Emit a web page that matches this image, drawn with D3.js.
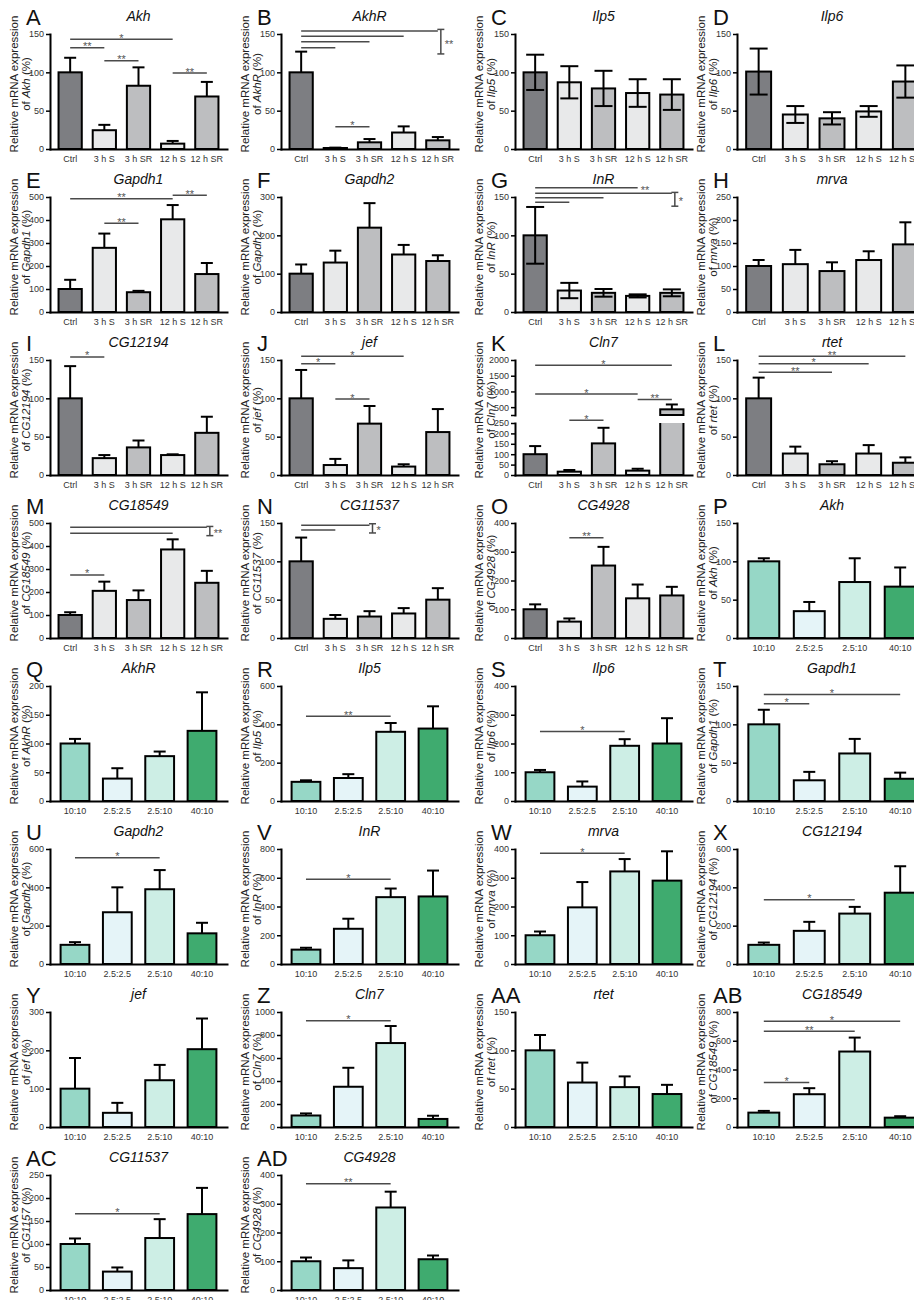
<!DOCTYPE html>
<html>
<head>
<meta charset="utf-8">
<script src="https://cdn.jsdelivr.net/npm/d3@7"></script>
<style>
  body { margin: 0; background: #fff; }
  svg { display: block; }
</style>
</head>
<body>
<svg id="fig" width="914" height="1300"></svg>
<script>
// ---- groups and colours ----
const timeGroups = ["Ctrl", "3 h S", "3 h SR", "12 h S", "12 h SR"];
const dietGroups = ["10:10", "2.5:2.5", "2.5:10", "40:10"];
const timeColors = ["#7d7e82", "#e8e9ea", "#bdbec0", "#e8e9ea", "#bdbec0"];
const dietColors = ["#96d7c6", "#e5f4f8", "#cdeee5", "#3fab6f"];

// ---- y tick sets ----
const t150 = [0, 50, 100, 150];
const t200 = [0, 50, 100, 150, 200];
const t250 = [0, 50, 100, 150, 200, 250];
const t300 = [0, 100, 200, 300];
const t400 = [0, 100, 200, 300, 400];
const t500 = [0, 100, 200, 300, 400, 500];
const t600 = [0, 200, 400, 600];
const t800 = [0, 200, 400, 600, 800];
const t1000 = [0, 200, 400, 600, 800, 1000];
const clnLowTicks = [0, 50, 100, 150, 200, 250];
const clnHighTicks = [250, 500, 1000, 1500, 2000];

// ---- means (%) and SEM, starvation / refeeding series ----
const meanA = [100, 24.5, 82.5, 7, 68.5];   const semA = [19, 7, 24, 3.5, 19];
const meanB = [100, 1.3, 8.7, 21.5, 11.3];  const semB = [27, 0.5, 4.3, 8, 4.3];
const meanC = [100, 87, 79, 73, 71];        const semC = [23, 21, 23, 18, 20];
const meanD = [101, 45, 40, 49, 88];        const semD = [30, 11, 8, 7, 21];
const meanE = [100, 279, 86, 403, 165];     const semE = [40, 62, 6, 62, 48];
const meanF = [100, 129, 220, 150, 133];    const semF = [24, 31, 64, 25, 15];
const meanG = [100, 28, 25, 21, 25];        const semG = [37, 10, 5, 2, 4.5];
const meanH = [100, 104, 89, 113, 147];     const semH = [13, 31, 19, 19, 48];
const meanI = [100, 22, 36, 26, 55];        const semI = [42, 4, 9, 1, 21];
const meanJ = [100, 13, 67, 11, 56];        const semJ = [37, 8, 23, 3, 30];
const meanK = [100, 16, 152, 21, 430];      const semK = [39, 8, 75, 9, 155];
const meanL = [100, 28, 14, 28, 16];        const semL = [27, 9, 4, 11, 7];
const meanM = [100, 205, 165, 385, 240];    const semM = [12, 40, 42, 44, 52];
const meanN = [100, 25, 28, 32, 50];        const semN = [31, 5, 7, 7, 15];
const meanO = [100, 57, 252, 138, 148];     const semO = [17, 11, 65, 48, 30];

// ---- means (%) and SEM, diet series ----
const meanP = [100, 35, 73, 67];    const semP = [4, 12, 31, 25];
const meanQ = [100, 39, 78, 122];   const semQ = [8, 18, 8, 67];
const meanR = [100, 120, 361, 378]; const semR = [8, 20, 46, 116];
const meanS = [100, 50, 192, 200];  const semS = [8, 18, 23, 88];
const meanT = [100, 27, 62, 29];    const semT = [19, 11, 19, 8];
const meanU = [100, 270, 390, 160]; const semU = [14, 130, 100, 55];
const meanV = [100, 245, 465, 470]; const semV = [13, 70, 60, 180];
const meanW = [100, 197, 322, 290]; const semW = [13, 88, 43, 102];
const meanX = [100, 173, 263, 372]; const semX = [12, 47, 35, 138];
const meanY = [100, 37, 122, 203];  const semY = [80, 26, 40, 80];
const meanZ = [100, 350, 730, 70];  const semZ = [18, 165, 148, 28];
const meanAA = [100, 58, 52, 43];   const semAA = [20, 26, 14, 12];
const meanAB = [100, 228, 525, 65]; const semAB = [12, 42, 97, 10];
const meanAC = [100, 40, 113, 165]; const semAC = [12, 9, 41, 57];
const meanAD = [100, 76, 287, 107]; const semAD = [13, 27, 55, 13];

// ---- significance: [from, to, value, stars, mode] ----
const sigA = [[0, 1, 132, "**"], [0, 3, 143, "*"], [1, 2, 115, "**"], [3, 4, 99, "**"]];
const sigB = [[0, 1, 132, ""], [0, 2, 140, ""], [0, 3, 147, ""], [0, 4, 154, ""], [1, 2, 29, "*"]];
const sigE = [[0, 3, 492, "**"], [3, 4, 508, "**"], [1, 2, 386, "**"]];
const sigG = [[0, 3, 162, "**", "end"], [0, 4, 155, ""], [0, 2, 149, ""], [0, 1, 143, ""]];
const sigI = [[0, 1, 154, "*"]];
const sigJ = [[0, 3, 155, "*"], [0, 1, 145, "*"], [1, 2, 99, "*"]];
const sigK = [[0, 4, 1835, "*"], [0, 3, 917, "*"], [3, 4, 743, "**"], [1, 2, 263, "*", "lo"]];
const sigL = [[0, 4, 155, "**"], [0, 3, 145, "*"], [0, 2, 134, "**"]];
const sigM = [[0, 4, 481, ""], [0, 3, 455, ""], [0, 1, 274, "*"]];
const sigN = [[0, 2, 147, ""], [0, 1, 141, ""]];
const sigO = [[1, 2, 349, "**"]];
const sigR = [[0, 2, 442, "**"]];
const sigS = [[0, 2, 242, "*"]];
const sigT = [[0, 3, 139, "*"], [0, 1, 127, "*"]];
const sigU = [[0, 2, 555, "*"]];
const sigV = [[0, 2, 590, "*"]];
const sigW = [[0, 2, 385, "*"]];
const sigX = [[0, 2, 335, "*"]];
const sigZ = [[0, 2, 925, "*"]];
const sigAB = [[0, 3, 736, "*"], [0, 2, 666, "**"], [0, 1, 310, "*"]];
const sigAC = [[0, 2, 166, "*"]];
const sigAD = [[0, 2, 370, "**"]];

// brackets grouping several comparisons: [bar, topValue, bottomValue, stars]
const brB = [4, 156, 124, "**"];
const brG = [4, 156, 138, "*"];
const brM = [4, 485, 445, "**"];
const brN = [2, 149, 137, "*"];

// ---- panel table ----
const T = (id, gene, mean, sem, ticks, extra) =>
  Object.assign({ id, gene, label: gene, groups: timeGroups, colors: timeColors, mean, sem, ticks, sig: [] }, extra || {});
const Dt = (id, gene, mean, sem, ticks, extra) =>
  Object.assign({ id, gene, label: gene, groups: dietGroups, colors: dietColors, mean, sem, ticks, sig: [] }, extra || {});

const panels = [
  T("A", "Akh", meanA, semA, t150, { sig: sigA }),
  T("B", "AkhR", meanB, semB, t150, { sig: sigB, bracket: brB }),
  T("C", "Ilp5", meanC, semC, t150, { twoSided: true }),
  T("D", "Ilp6", meanD, semD, t150, { twoSided: true }),
  T("E", "Gapdh1", meanE, semE, t500, { sig: sigE }),
  T("F", "Gapdh2", meanF, semF, t300),
  T("G", "InR", meanG, semG, t150, { twoSided: true, sig: sigG, bracket: brG }),
  T("H", "mrva", meanH, semH, t250),
  T("I", "CG12194", meanI, semI, t150, { sig: sigI }),
  T("J", "jef", meanJ, semJ, t150, { sig: sigJ }),
  T("K", "Cln7", meanK, semK, null, { sig: sigK, broken: { lo: 250, loTicks: clnLowTicks, hiTicks: clnHighTicks } }),
  T("L", "rtet", meanL, semL, t150, { sig: sigL }),
  T("M", "CG18549", meanM, semM, t500, { sig: sigM, bracket: brM }),
  T("N", "CG11537", meanN, semN, t150, { sig: sigN, bracket: brN }),
  T("O", "CG4928", meanO, semO, t400, { sig: sigO }),
  Dt("P", "Akh", meanP, semP, t150),
  Dt("Q", "AkhR", meanQ, semQ, t200),
  Dt("R", "Ilp5", meanR, semR, t600, { sig: sigR }),
  Dt("S", "Ilp6", meanS, semS, t400, { sig: sigS }),
  Dt("T", "Gapdh1", meanT, semT, t150, { sig: sigT }),
  Dt("U", "Gapdh2", meanU, semU, t600, { sig: sigU }),
  Dt("V", "InR", meanV, semV, t800, { sig: sigV }),
  Dt("W", "mrva", meanW, semW, t400, { sig: sigW }),
  Dt("X", "CG12194", meanX, semX, t600, { sig: sigX }),
  Dt("Y", "jef", meanY, semY, t300),
  Dt("Z", "Cln7", meanZ, semZ, t1000, { sig: sigZ }),
  Dt("AA", "rtet", meanAA, semAA, t150),
  Dt("AB", "CG18549", meanAB, semAB, t800, { sig: sigAB }),
  Dt("AC", "CG11537", meanAC, semAC, t250, { sig: sigAC, label: "CG1157" }),
  Dt("AD", "CG4928", meanAD, semAD, t400, { sig: sigAD })
];

// ---- layout ----
const FONT = "'Liberation Sans', Arial, Helvetica, sans-serif";
const colX = [50, 281, 515, 737];
const colW = [177, 177, 177, 190];
const ROW = 163;
const BASE = 149, TOP = 34;
const LINE_COL = "#4a4a4a", STAR_COL = "#555";
const fmt = d3.format("d");

const svg = d3.select("#fig");

function styleAxis(sel) {
  sel.attr("font-family", FONT).attr("font-size", 9);
  sel.select(".domain").attr("stroke", "#000").attr("stroke-width", 2).attr("stroke-linecap", "square");
  sel.selectAll(".tick line").attr("stroke", "#000").attr("stroke-width", 1.5);
  sel.selectAll(".tick text").attr("fill", "#333");
}

panels.forEach((p, i) => {
  const r = Math.floor(i / 4), c = i % 4;
  const W = colW[c];
  const g = svg.append("g").attr("transform", `translate(${colX[c]},${r * ROW})`);

  const x = d3.scaleBand().domain(p.groups).range([0, W]).paddingInner(0.32).paddingOuter(0.25);
  const bw = x.bandwidth();
  const cx = k => x(p.groups[k]) + bw / 2;

  let y, yLo, yHi;
  if (p.broken) {
    yLo = d3.scaleLinear().domain([0, p.broken.lo]).range([BASE, 97]);
    yHi = d3.scaleLinear().domain([p.broken.lo, d3.max(p.broken.hiTicks)]).range([89, TOP]);
    y = v => (v <= p.broken.lo ? yLo(v) : yHi(v));
  } else {
    y = d3.scaleLinear().domain([0, d3.max(p.ticks)]).range([BASE, TOP]);
  }

  // panel letter and gene title
  g.append("text").attr("x", -24).attr("y", 25)
    .attr("font-family", FONT).attr("font-size", 22).attr("fill", "#111").text(p.id);
  g.append("text").attr("x", W / 2).attr("y", 21).attr("text-anchor", "middle")
    .attr("font-family", FONT).attr("font-size", 14).attr("font-style", "italic").attr("fill", "#111").text(p.gene);

  // y-axis title (two lines)
  const yt = g.append("g").attr("font-family", FONT).attr("font-size", 11.5).attr("fill", "#222");
  yt.append("text").attr("transform", "translate(-32,84) rotate(-90)").attr("text-anchor", "middle")
    .text("Relative mRNA expression");
  const t2 = yt.append("text").attr("transform", "translate(-20,84) rotate(-90)").attr("text-anchor", "middle");
  t2.append("tspan").text("of ");
  t2.append("tspan").attr("font-style", "italic").text(p.label);
  t2.append("tspan").text(" (%)");

  // y axis
  if (p.broken) {
    g.append("g").call(d3.axisLeft(yLo).tickValues(p.broken.loTicks).tickSize(4).tickSizeOuter(0).tickPadding(2).tickFormat(fmt)).call(styleAxis);
    g.append("g").call(d3.axisLeft(yHi).tickValues(p.broken.hiTicks).tickSize(4).tickSizeOuter(0).tickPadding(2)
      .tickFormat(d => (d === p.broken.lo ? "" : fmt(d)))).call(styleAxis);
  } else {
    g.append("g").call(d3.axisLeft(y).tickValues(p.ticks).tickSize(4).tickSizeOuter(0).tickPadding(2).tickFormat(fmt)).call(styleAxis);
  }

  // x axis
  g.append("g").attr("transform", `translate(0,${BASE})`)
    .call(d3.axisBottom(x).tickSize(0).tickSizeOuter(0).tickPadding(7))
    .call(styleAxis);

  // bars
  p.mean.forEach((m, k) => {
    const bx = x(p.groups[k]);
    const col = p.colors[k];
    if (p.broken && m > p.broken.lo) {
      g.append("rect").attr("x", bx).attr("y", 97).attr("width", bw).attr("height", BASE - 97).attr("fill", col);
      g.append("path").attr("d", `M${bx},97V${BASE}H${bx + bw}V97`)
        .attr("fill", "none").attr("stroke", "#000").attr("stroke-width", 2);
      g.append("rect").attr("x", bx).attr("y", yHi(m)).attr("width", bw).attr("height", 89 - yHi(m))
        .attr("fill", col).attr("stroke", "#000").attr("stroke-width", 2);
    } else {
      g.append("rect").attr("x", bx).attr("y", y(m)).attr("width", bw).attr("height", BASE - y(m))
        .attr("fill", col).attr("stroke", "#000").attr("stroke-width", 2);
    }
  });

  // error bars (SEM)
  p.mean.forEach((m, k) => {
    const s = p.sem[k], xc = cx(k), hw = p.twoSided ? 9 : 6;
    const yTop = y(m + s), yBot = p.twoSided ? y(m - s) : y(m);
    const eg = g.append("g").attr("stroke", "#000").attr("stroke-width", 2);
    eg.append("line").attr("x1", xc).attr("x2", xc).attr("y1", yBot).attr("y2", yTop);
    eg.append("line").attr("x1", xc - hw).attr("x2", xc + hw).attr("y1", yTop).attr("y2", yTop);
    if (p.twoSided) eg.append("line").attr("x1", xc - hw).attr("x2", xc + hw).attr("y1", yBot).attr("y2", yBot);
  });

  // significance lines and stars
  p.sig.forEach(([a, b, v, stars, mode]) => {
    const ly = mode === "lo" ? yLo(v) : y(v);
    g.append("line").attr("x1", cx(a)).attr("x2", cx(b)).attr("y1", ly).attr("y2", ly)
      .attr("stroke", LINE_COL).attr("stroke-width", 1.5);
    if (!stars) return;
    const st = g.append("text").attr("font-family", FONT).attr("font-size", 11).attr("fill", STAR_COL).text(stars);
    if (mode === "end") {
      st.attr("x", cx(b) + 3).attr("y", ly + 6).attr("text-anchor", "start");
    } else {
      st.attr("x", (cx(a) + cx(b)) / 2).attr("y", ly + 2.5).attr("text-anchor", "middle");
    }
  });

  if (p.bracket) {
    const [b, v1, v2, stars] = p.bracket;
    const bxp = cx(b) + 3, y1 = y(v1), y2 = y(v2);
    const bg = g.append("g").attr("stroke", LINE_COL).attr("stroke-width", 1.5);
    bg.append("line").attr("x1", bxp).attr("x2", bxp).attr("y1", y1).attr("y2", y2);
    bg.append("line").attr("x1", bxp - 3.5).attr("x2", bxp + 3.5).attr("y1", y1).attr("y2", y1);
    bg.append("line").attr("x1", bxp - 3.5).attr("x2", bxp + 3.5).attr("y1", y2).attr("y2", y2);
    g.append("text").attr("x", bxp + 4).attr("y", (y1 + y2) / 2 + 6)
      .attr("font-family", FONT).attr("font-size", 11).attr("fill", STAR_COL).text(stars);
  }
});
</script>
</body>
</html>
